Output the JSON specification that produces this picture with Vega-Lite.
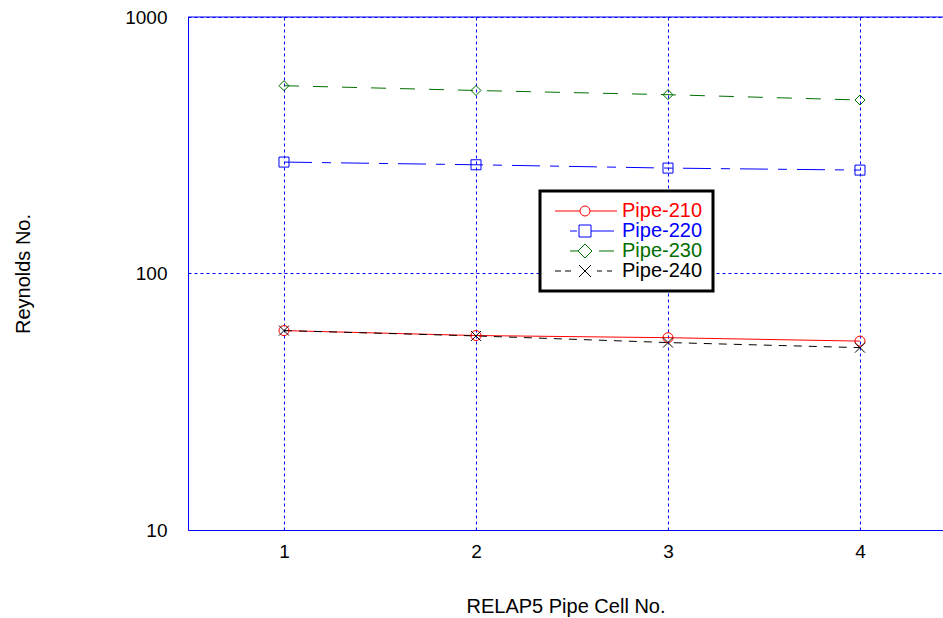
{
  "$schema": "https://vega.github.io/schema/vega-lite/v6.json",
  "width": 755,
  "height": 513,
  "autosize": {"type": "none"},
  "padding": {"left": 188, "top": 17, "right": 0, "bottom": 88},
  "background": "white",
  "config": {
    "view": {"stroke": null},
    "font": "Liberation Sans",
    "axis": {
      "labelFont": "Liberation Sans",
      "titleFont": "Liberation Sans",
      "labelColor": "black",
      "titleColor": "black",
      "titleFontWeight": "normal",
      "labelFontSize": 19,
      "titleFontSize": 20,
      "ticks": false,
      "domain": true,
      "domainColor": "#0000ff",
      "domainWidth": 1,
      "grid": true,
      "gridColor": "#0000ff",
      "gridDash": [3, 3],
      "gridOpacity": 1,
      "gridWidth": 1
    }
  },
  "layer": [
    {
      "data": {"values": [{"re": 1000}]},
      "mark": {"type": "rule", "color": "#0000ff", "strokeWidth": 1},
      "encoding": {"y": {"field": "re", "type": "quantitative"}}
    },
    {
      "data": {
        "values": [
          {"pipe": "Pipe-210", "cell": 1, "re": 59.9},
          {"pipe": "Pipe-210", "cell": 2, "re": 57.3},
          {"pipe": "Pipe-210", "cell": 3, "re": 56.2},
          {"pipe": "Pipe-210", "cell": 4, "re": 54.5},
          {"pipe": "Pipe-220", "cell": 1, "re": 271.9},
          {"pipe": "Pipe-220", "cell": 2, "re": 265.4},
          {"pipe": "Pipe-220", "cell": 3, "re": 257.6},
          {"pipe": "Pipe-220", "cell": 4, "re": 253.0},
          {"pipe": "Pipe-230", "cell": 1, "re": 539.7},
          {"pipe": "Pipe-230", "cell": 2, "re": 517.0},
          {"pipe": "Pipe-230", "cell": 3, "re": 497.8},
          {"pipe": "Pipe-230", "cell": 4, "re": 474.6},
          {"pipe": "Pipe-240", "cell": 1, "re": 59.9},
          {"pipe": "Pipe-240", "cell": 2, "re": 57.1},
          {"pipe": "Pipe-240", "cell": 3, "re": 53.8},
          {"pipe": "Pipe-240", "cell": 4, "re": 51.4}
        ]
      },
      "encoding": {
        "x": {
          "field": "cell", "type": "quantitative",
          "scale": {"domain": [0.5, 4.4323], "nice": false, "zero": false},
          "axis": {"values": [1, 2, 3, 4], "format": "d", "title": "RELAP5 Pipe Cell No.", "labelPadding": 12, "titlePadding": 35}
        },
        "y": {
          "field": "re", "type": "quantitative",
          "scale": {"type": "log", "domain": [10, 1000], "nice": false},
          "axis": {"values": [10, 100, 1000], "format": "d", "title": "Reynolds No.", "labelPadding": 21, "titlePadding": 91}
        },
        "color": {
          "field": "pipe", "type": "nominal",
          "scale": {"domain": ["Pipe-210", "Pipe-220", "Pipe-230", "Pipe-240"], "range": ["#ff0000", "#0000ff", "#007000", "#000000"]},
          "legend": {
            "orient": "none",
            "legendX": 352,
            "legendY": 174,
            "title": null,
            "padding": 10,
            "strokeColor": "black",
            "fillColor": "white",
            "labelFont": "Liberation Sans",
            "labelFontSize": 20,
            "labelOffset": 27,
            "symbolOffset": 25,
            "rowPadding": 0,
            "symbolSize": 100,
            "symbolStrokeWidth": 1,
            "encoding": {
              "legend": {"strokeWidth": {"value": 3}},
              "symbols": {
                "shape": {"value": {"expr": "datum.value === 'Pipe-210' ? 'M-6,0L-1,0M1,0L6.4,0M1,0A1,1,0,1,1,-1,0A1,1,0,1,1,1,0' : datum.value === 'Pipe-220' ? 'M-3,0L-1.6,0M-1.2,-1.2L1.2,-1.2L1.2,1.2L-1.2,1.2ZM1.2,0L5.8,0' : datum.value === 'Pipe-230' ? 'M-3,0L-1.4,0M0,-1.4L1.4,0L0,1.4L-1.4,0ZM2.8,0L5.8,0' : 'M-6,0L-4.8,0M-4,0L-2.8,0M-1.2,-1.2L1.2,1.2M-1.2,1.2L1.2,-1.2M2.4,0L3.4,0M4.4,0L5.4,0'"}},
                "fill": {"value": "transparent"},
                "strokeDash": {"value": []},
                "strokeWidth": {"value": 1}
              },
              "labels": {"fill": {"value": {"expr": "scale('color', datum.value)"}}}
            }
          }
        }
      },
      "layer": [
        {
          "transform": [{"filter": "datum.pipe === 'Pipe-210'"}],
          "mark": {"type": "line", "strokeWidth": 1}
        },
        {
          "transform": [{"filter": "datum.pipe === 'Pipe-220'"}],
          "mark": {"type": "line", "strokeWidth": 1, "strokeDash": [28, 10, 9, 10]}
        },
        {
          "transform": [{"filter": "datum.pipe === 'Pipe-230'"}],
          "mark": {"type": "line", "strokeWidth": 1, "strokeDash": [15, 14]}
        },
        {
          "transform": [{"filter": "datum.pipe === 'Pipe-240'"}],
          "mark": {"type": "line", "strokeWidth": 1, "strokeDash": [8, 7]}
        },
        {
          "transform": [{"filter": "datum.pipe === 'Pipe-210'"}],
          "mark": {"type": "point", "shape": "circle", "filled": false, "strokeWidth": 1, "size": 100, "opacity": 1}
        },
        {
          "transform": [{"filter": "datum.pipe === 'Pipe-220'"}],
          "mark": {"type": "point", "shape": "square", "filled": false, "strokeWidth": 1, "size": 100, "opacity": 1}
        },
        {
          "transform": [{"filter": "datum.pipe === 'Pipe-230'"}],
          "mark": {"type": "point", "shape": "diamond", "filled": false, "strokeWidth": 1, "size": 100, "opacity": 1}
        },
        {
          "transform": [{"filter": "datum.pipe === 'Pipe-240'"}],
          "mark": {"type": "point", "shape": "M-1,-1L1,1M-1,1L1,-1", "filled": false, "strokeWidth": 1, "size": 100, "opacity": 1}
        }
      ]
    }
  ]
}
